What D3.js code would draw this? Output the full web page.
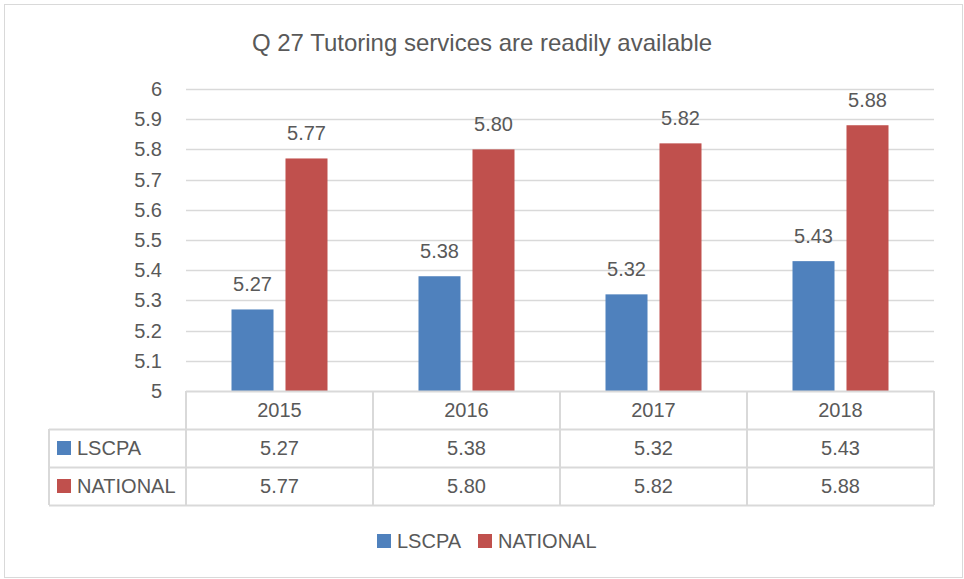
<!DOCTYPE html>
<html>
<head>
<meta charset="utf-8">
<script src="https://cdn.jsdelivr.net/npm/d3@7"></script>
<style>
  body { margin: 0; background: #fff; }
  svg text { font-family: "Liberation Sans", Arial, sans-serif; fill: #595959; }
</style>
</head>
<body>
<svg id="chart" width="964" height="579"></svg>
<script>
/*
 * DATA
 */
var years = ['2015', '2016', '2017', '2018'];
var seriesNames = ['LSCPA', 'NATIONAL'];
var lscpaValues = [5.27, 5.38, 5.32, 5.43];
var nationalValues = [5.77, 5.80, 5.82, 5.88];
var yTicks = [5, 5.1, 5.2, 5.3, 5.4, 5.5, 5.6, 5.7, 5.8, 5.9, 6];
var colors = ['#4F81BD', '#C0504D'];
var title = 'Q 27 Tutoring services are readily available';

var seriesValues = [lscpaValues, nationalValues];

/*
 * LAYOUT
 */
var plot = { left: 186, right: 934, top: 89, bottom: 391 };
var rowH = 38;
var labelLeft = 49;
var gridColor = '#D9D9D9';
var fs = '20px';

var svg = d3.select('#chart');

// outer frame
svg.append('rect')
  .attr('x', 4.5).attr('y', 4.5)
  .attr('width', 958).attr('height', 573)
  .attr('fill', '#fff').attr('stroke', gridColor);

// title
svg.append('text')
  .attr('x', 482).attr('y', 51)
  .attr('text-anchor', 'middle')
  .style('font-size', '24px')
  .text(title);

var x0 = d3.scaleBand().domain(years).range([plot.left, plot.right]);
var bw = x0.bandwidth();
var x1 = d3.scaleBand().domain(seriesNames)
  .range([bw / 2 - 48, bw / 2 + 48])
  .paddingInner(0.222);
var y = d3.scaleLinear().domain([5, 6]).range([plot.bottom, plot.top]);

// gridlines
svg.append('g').selectAll('line')
  .data(yTicks.slice(1))
  .join('line')
  .attr('x1', plot.left).attr('x2', plot.right)
  .attr('y1', function (d) { return Math.round(y(d)) + 0.5; })
  .attr('y2', function (d) { return Math.round(y(d)) + 0.5; })
  .attr('stroke', gridColor).attr('stroke-width', 1.5);

// y axis labels
var yAxis = d3.axisLeft(y).tickValues(yTicks).tickSize(0).tickPadding(0)
  .tickFormat(function (d) { return d3.format('')(+d.toFixed(1)); });
var gy = svg.append('g')
  .attr('transform', 'translate(162,0)')
  .call(yAxis);
gy.select('.domain').remove();
gy.selectAll('text')
  .style('font-size', fs)
  .style('font-family', '"Liberation Sans", Arial, sans-serif')
  .attr('fill', '#595959');

// bars
var groups = svg.append('g').selectAll('g')
  .data(years)
  .join('g')
  .attr('transform', function (d) { return 'translate(' + x0(d) + ',0)'; });

function groupData(d, i) {
  return seriesNames.map(function (s, k) { return { s: s, k: k, v: seriesValues[k][i] }; });
}

groups.selectAll('rect')
  .data(groupData)
  .join('rect')
  .attr('x', function (d) { return x1(d.s); })
  .attr('width', x1.bandwidth())
  .attr('y', function (d) { return y(d.v); })
  .attr('height', function (d) { return y(5) - y(d.v); })
  .attr('fill', function (d) { return colors[d.k]; });

groups.selectAll('text.val')
  .data(groupData)
  .join('text')
  .attr('class', 'val')
  .attr('x', function (d) { return x1(d.s) + x1.bandwidth() / 2; })
  .attr('y', function (d) { return y(d.v) - 18; })
  .attr('text-anchor', 'middle')
  .style('font-size', fs)
  .text(function (d) { return d.v.toFixed(2); });

/*
 * DATA TABLE
 */
var table = svg.append('g');
var tBottom = plot.bottom + rowH * 3;

// horizontal lines
[0, 1, 2, 3].forEach(function (r) {
  var yy = Math.round(plot.bottom + r * rowH) + 0.5;
  table.append('line')
    .attr('x1', r === 0 ? plot.left : labelLeft).attr('x2', plot.right)
    .attr('y1', yy).attr('y2', yy)
    .attr('stroke', gridColor).attr('stroke-width', 2);
});
// vertical lines
table.append('line')
  .attr('x1', labelLeft).attr('x2', labelLeft)
  .attr('y1', plot.bottom + rowH).attr('y2', tBottom)
  .attr('stroke', gridColor).attr('stroke-width', 2);
years.concat(['end']).forEach(function (yr, i) {
  var xx = i < years.length ? x0(yr) : plot.right;
  table.append('line')
    .attr('x1', xx).attr('x2', xx)
    .attr('y1', plot.bottom).attr('y2', tBottom)
    .attr('stroke', gridColor).attr('stroke-width', 2);
});

// header years
table.selectAll('text.yr')
  .data(years)
  .join('text')
  .attr('class', 'yr')
  .attr('x', function (d) { return x0(d) + bw / 2; })
  .attr('y', plot.bottom + rowH / 2 + 7)
  .attr('text-anchor', 'middle')
  .style('font-size', fs)
  .text(function (d) { return d; });

// value rows
seriesNames.forEach(function (s, k) {
  var rowMid = plot.bottom + rowH * (k + 1) + rowH / 2;
  table.append('rect')
    .attr('x', 57).attr('y', rowMid - 7)
    .attr('width', 14).attr('height', 14)
    .attr('fill', colors[k]);
  table.append('text')
    .attr('x', 77).attr('y', rowMid + 7)
    .style('font-size', fs)
    .text(s);
  table.selectAll('text.v' + k)
    .data(seriesValues[k])
    .join('text')
    .attr('class', 'v' + k)
    .attr('x', function (d, i) { return x0(years[i]) + bw / 2; })
    .attr('y', rowMid + 7)
    .attr('text-anchor', 'middle')
    .style('font-size', fs)
    .text(function (d) { return d.toFixed(2); });
});

/*
 * LEGEND
 */
var legend = svg.append('g').attr('transform', 'translate(377,541)');
var legendX = [0, 101];
seriesNames.forEach(function (s, k) {
  legend.append('rect')
    .attr('x', legendX[k]).attr('y', -7)
    .attr('width', 14).attr('height', 14)
    .attr('fill', colors[k]);
  legend.append('text')
    .attr('x', legendX[k] + 20).attr('y', 7)
    .style('font-size', fs)
    .text(s);
});
</script>
</body>
</html>
